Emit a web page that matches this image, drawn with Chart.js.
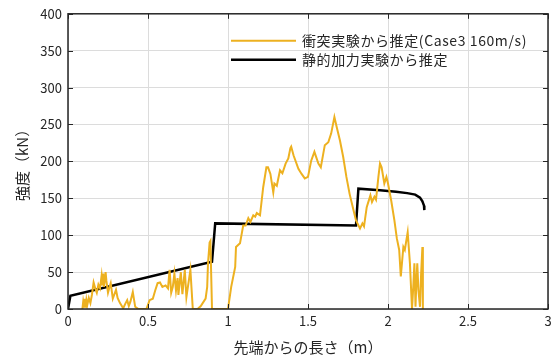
<!DOCTYPE html>
<html>
<head>
<meta charset="utf-8">
<script src="https://cdn.jsdelivr.net/npm/chart.js@4.4.0/dist/chart.umd.min.js"></script>
<style>
  html, body { margin: 0; padding: 0; background: #fff; }
  #wrap { width: 557px; height: 360px; }
</style>
</head>
<body>
<div id="wrap"><canvas id="myChart"></canvas></div>
<script>
// 衝突実験から推定した強度 (先端からの長さ m, 強度 kN)
const crashX = [0.09, 0.095, 0.10, 0.105, 0.11, 0.115, 0.12, 0.13, 0.14, 0.15, 0.16, 0.17, 0.18, 0.19, 0.20, 0.21, 0.215, 0.22, 0.225, 0.235, 0.24, 0.25, 0.26, 0.267, 0.28, 0.29, 0.30, 0.31, 0.325, 0.345, 0.36, 0.37, 0.38, 0.39, 0.405, 0.42, 0.44,
  0.49, 0.51, 0.53, 0.545, 0.56, 0.575, 0.59, 0.61, 0.625, 0.635, 0.645, 0.655, 0.665, 0.675, 0.685, 0.69, 0.705, 0.715, 0.73, 0.74, 0.765, 0.78, 0.81, 0.83, 0.86, 0.87, 0.875, 0.885, 0.89, 0.90,
  0.99, 1.00, 1.02, 1.045, 1.05, 1.075, 1.095, 1.11, 1.127, 1.14, 1.158, 1.17, 1.18, 1.20, 1.22, 1.24, 1.25, 1.265, 1.283, 1.29, 1.305, 1.325, 1.34, 1.36, 1.377, 1.39, 1.395, 1.41, 1.44, 1.46, 1.48, 1.50,
  1.52, 1.54, 1.565, 1.58, 1.605, 1.627, 1.645, 1.665, 1.68, 1.70, 1.72, 1.74, 1.76, 1.78, 1.80, 1.825, 1.84, 1.85, 1.867, 1.89, 1.90, 1.915, 1.925, 1.94, 1.95, 1.96, 1.977, 1.99, 2.00, 2.02, 2.04,
  2.055, 2.07, 2.08, 2.096, 2.105, 2.123, 2.137, 2.15, 2.158, 2.165, 2.172, 2.178, 2.183, 2.19, 2.2, 2.207, 2.215, 2.218];
const crashY = [0, 10, 3, 14, 2, 12, 5, 15, 8, 20, 36, 28, 22, 33, 28, 45, 32, 48, 30, 50, 38, 22, 30, 35, 14, 20, 26, 15, 8, 1, 8, 12, 4, 10, 23, 3, 0,
  0, 12, 14, 25, 35, 36, 30, 32, 28, 53, 22, 30, 48, 25, 42, 19, 50, 20, 53, 16, 53, 0, 0, 4, 14, 30, 62, 90, 92, 0,
  0, 0, 30, 57, 84, 89, 113, 113, 123, 118, 127, 125, 130, 127, 165, 192, 192, 183, 158, 170, 167, 188, 184, 197, 204, 218, 220, 208, 190, 183, 177, 179,
  201, 213, 197, 192, 222, 226, 238, 260, 246, 228, 206, 179, 156, 138, 120, 109, 116, 112, 138, 154, 145, 152, 148, 179, 197, 192, 170, 179, 170, 147, 120,
  96, 80, 44, 84, 80, 104, 62, 0, 30, 62, 3, 40, 62, 26, 3, 48, 84, 0];

// 静的加力実験から推定した強度
const staticX = [0, 0.015, 0.90, 0.92, 1.80, 1.815, 1.95, 2.05, 2.12, 2.17, 2.20, 2.215, 2.225, 2.227];
const staticY = [0, 18, 64, 116, 113, 163, 161, 159, 157, 155, 151, 146, 140, 134];

const seriesLabels = ['衝突実験から推定(Case3 160m/s)', '静的加力実験から推定'];
const xTitle = '先端からの長さ（m）';
const yTitle = '強度（kN）';

const toPoints = (xs, ys) => xs.map((x, i) => ({ x: x, y: ys[i] }));

const axisColor = '#262626';
const gridColor = '#dcdcdc';

// 枠線と内向きの目盛り線 (データの上に描く)
const framePlugin = {
  id: 'frame',
  afterDatasetsDraw(chart) {
    const { ctx, chartArea: a, scales } = chart;
    ctx.save();
    ctx.strokeStyle = axisColor;
    ctx.lineWidth = 1.5;
    ctx.strokeRect(a.left, a.top, a.right - a.left, a.bottom - a.top);
    ctx.lineWidth = 1;
    ctx.beginPath();
    scales.x.ticks.forEach(t => {
      const px = Math.round(scales.x.getPixelForValue(t.value)) + 0.5;
      ctx.moveTo(px, a.bottom); ctx.lineTo(px, a.bottom - 5);
      ctx.moveTo(px, a.top); ctx.lineTo(px, a.top + 5);
    });
    scales.y.ticks.forEach(t => {
      const py = Math.round(scales.y.getPixelForValue(t.value)) + 0.5;
      ctx.moveTo(a.left, py); ctx.lineTo(a.left + 5, py);
      ctx.moveTo(a.right, py); ctx.lineTo(a.right - 5, py);
    });
    ctx.stroke();
    ctx.restore();
  }
};

// 凡例 (枠なし、プロット領域の右上)
const legendPlugin = {
  id: 'insideLegend',
  afterDraw(chart) {
    const { ctx, chartArea: a } = chart;
    const x0 = a.left + 163;
    const y0 = a.top + 27;
    ctx.save();
    ctx.font = '14px "Noto Sans CJK JP"';
    ctx.letterSpacing = '0.6px';
    ctx.textBaseline = 'middle';
    chart.data.datasets.forEach((ds, i) => {
      const y = y0 + i * 19;
      ctx.strokeStyle = ds.borderColor;
      ctx.lineWidth = ds.borderWidth;
      ctx.beginPath();
      ctx.moveTo(x0, y); ctx.lineTo(x0 + 65, y);
      ctx.stroke();
      ctx.fillStyle = axisColor;
      ctx.fillText(ds.label, x0 + 71, y);
    });
    ctx.restore();
  }
};

const ctx = document.getElementById('myChart').getContext('2d');
const myChart = new Chart(ctx, {
  type: 'line',
  data: {
    datasets: [{
      label: seriesLabels[0],
      data: toPoints(crashX, crashY),
      borderColor: '#EDB120',
      borderWidth: 2,
      pointRadius: 0,
      tension: 0
    }, {
      label: seriesLabels[1],
      data: toPoints(staticX, staticY),
      borderColor: '#000000',
      borderWidth: 2.5,
      pointRadius: 0,
      tension: 0
    }]
  },
  options: {
    responsive: true,
    maintainAspectRatio: false,
    animation: false,
    layout: { padding: { top: 13, right: 9, left: 0, bottom: 0 } },
    plugins: {
      legend: { display: false },
      tooltip: { enabled: false }
    },
    scales: {
      x: {
        type: 'linear',
        min: 0,
        max: 3,
        ticks: {
          stepSize: 0.5,
          color: axisColor,
          font: { family: '"Noto Sans CJK JP"', size: 13 },
          padding: 4,
          maxRotation: 0,
          callback: v => String(Number(v))
        },
        grid: { color: gridColor, drawTicks: false },
        border: { display: false },
        title: {
          display: true,
          text: xTitle,
          color: axisColor,
          font: { family: '"Noto Sans CJK JP"', size: 15 },
          padding: { top: 0, bottom: 4 }
        },
        afterFit(scale) { scale.height = 51; }
      },
      y: {
        min: 0,
        max: 400,
        ticks: {
          stepSize: 50,
          color: axisColor,
          font: { family: '"Noto Sans CJK JP"', size: 13 },
          padding: 6
        },
        grid: { color: gridColor, drawTicks: false },
        border: { display: false },
        title: {
          display: true,
          text: yTitle,
          color: axisColor,
          font: { family: '"Noto Sans CJK JP"', size: 15 },
          padding: { top: 13, bottom: 0 }
        },
        afterFit(scale) { scale.width = 68; }
      }
    }
  },
  plugins: [framePlugin, legendPlugin]
});
</script>
</body>
</html>
